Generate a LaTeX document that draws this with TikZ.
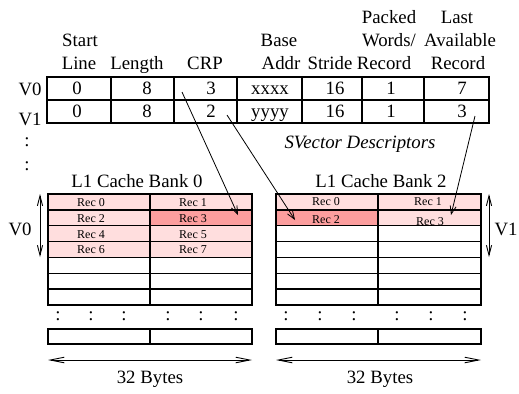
\documentclass[tikz,border=0pt]{standalone}
\usepackage{fontspec}
\setmainfont{Liberation Serif}
\usetikzlibrary{arrows.meta}

\definecolor{reclight}{RGB}{255,222,222}
\definecolor{recdark}{RGB}{252,158,158}

\begin{document}
\begin{tikzpicture}[x=0.5pt, y=-0.5pt,
  txt/.style={font=\fontsize{9.4}{11}\selectfont, inner sep=0pt, anchor=base},
  itxt/.style={txt, font=\fontsize{9.4}{11}\selectfont\itshape},
  rec/.style={font=\fontsize{6}{7}\selectfont, inner sep=0pt, anchor=base},
  grid/.style={line width=0.7pt},
  ptr/.style={-{Straight Barb[length=4pt,width=3pt]}, line width=0.4pt},
  span/.style={{Straight Barb[length=7pt,width=2.8pt]}-{Straight Barb[length=7pt,width=2.8pt]}, line width=0.45pt},
  vspan/.style={{Straight Barb[length=5pt,width=2.6pt]}-{Straight Barb[length=5pt,width=2.6pt]}, line width=0.45pt}]
\useasboundingbox (0,0) rectangle (519,393);

% -------------------------------------------------------
% 1. Descriptor table
% -------------------------------------------------------
% column headers
\node[txt] (hPacked) at (389,23) {Packed};
\node[txt] (hLast)   at (457,23) {Last};
\node[txt] (hStart)  at (80,46)  {Start};
\node[txt] (hBase)   at (279,46) {Base};
\node[txt] (hWords)  at (389,46) {Words/};
\node[txt] (hAvail)  at (460,46) {Available};
\node[txt] (hLine)   at (79,69)  {Line};
\node[txt] (hLength) at (137,69) {Length};
\node[txt] (hCRP)    at (205,69) {CRP};
\node[txt] (hAddr)   at (281,69) {Addr};
\node[txt] (hStride) at (330,69) {Stride};
\node[txt] (hRecA)   at (384,69) {Record};
\node[txt] (hRecB)   at (458,69) {Record};

% cells
\draw[grid] (47,77) rectangle (489,123);
\draw[grid] (47,100) -- (489,100);
\foreach \x in {111,174,237,302,362,424}
  \draw[grid] (\x,77) -- (\x,123);

\node[txt] (lV0) at (30,95)  {V0};
\node[txt] (lV1) at (30,125) {V1};
\node[txt] (vdotA) at (27,146) {:};
\node[txt] (vdotB) at (27,170) {:};

\foreach \x/\a/\b [count=\i] in {77/0/0, 147/8/8, 211/3/2, 270/xxxx/yyyy, 335/16/16, 391/1/1, 462/7/3} {
  \node[txt] (v0c\i) at (\x,94)  {\a};
  \node[txt] (v1c\i) at (\x,117) {\b};
}

\node[itxt] (desc) at (360,148) {SVector Descriptors};

% -------------------------------------------------------
% 2. Cache banks
% -------------------------------------------------------
% records of V0 in bank 0, records of V1 in bank 2
\fill[reclight] (48,194) rectangle (252,257);
\fill[recdark]  (150,210) rectangle (252,226);
\fill[reclight] (276,194) rectangle (481,210);
\fill[reclight] (378,210) rectangle (481,226);
\fill[recdark]  (276,210) rectangle (378,226);

\foreach \l/\m/\r in {48/150/252, 276/378/481} {
  \foreach \k in {0,...,6}
    \draw[grid] (\l,{194+\k*15.857}) rectangle (\r,{194+(\k+1)*15.857});
  \draw[grid] (\m,194) -- (\m,305);
  \draw[grid] (\l,329) rectangle (\r,344);
  \draw[grid] (\m,329) -- (\m,344);
}

\foreach \x in {58,91,124,168,201,236,286,320,354,397,431,465}
  \node[txt] (dot\x) at (\x,320) {:};

\node[txt] (bank0) at (137,187) {L1 Cache Bank 0};
\node[txt] (bank2) at (381,187) {L1 Cache Bank 2};

\foreach \n/\x/\y in {0/91/206, 1/193/206, 2/91/222, 3/193/222, 4/91/238, 5/193/238, 6/91/253, 7/193/253}
  \node[rec] (a\n) at (\x,\y) {Rec \n};
\foreach \n/\x/\y in {0/326/205, 1/428/205, 2/326/223, 3/430/225}
  \node[rec] (b\n) at (\x,\y) {Rec \n};

% extent of each vector
\draw[vspan] (40,194) -- (40,257);
\node[txt] (bV0) at (20,235) {V0};
\draw[vspan] (489,194) -- (489,257);
\node[txt] (bV1) at (506,235) {V1};

% line width
\draw[span] (48,360) -- (252,360);
\node[txt] (bytes0) at (150,383) {32 Bytes};
\draw[span] (276,360) -- (481,360);
\node[txt] (bytes2) at (380,383) {32 Bytes};

% -------------------------------------------------------
% 3. Pointers into the banks
% -------------------------------------------------------
\coordinate (crp0)  at (182,92);
\coordinate (crp1)  at (227,115);
\coordinate (last1) at (475,116);
\coordinate (inA3)  at (238,215);
\coordinate (inB2)  at (295,220);
\coordinate (inB3)  at (451,215);

\draw[ptr] (crp0)  -- (inA3);
\draw[ptr] (crp1)  -- (inB2);
\draw[ptr] (last1) -- (inB3);

\end{tikzpicture}
\end{document}
